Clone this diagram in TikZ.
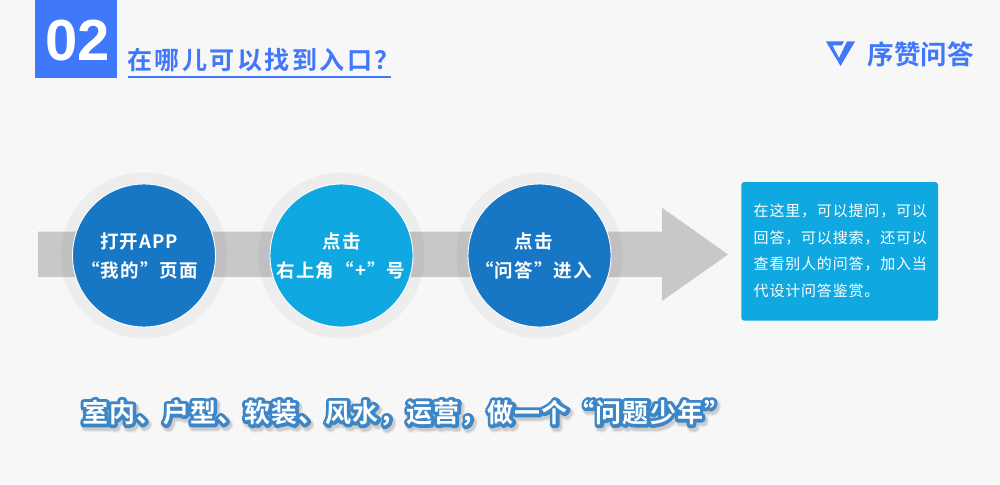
\documentclass[tikz,border=0pt]{standalone}
\usepackage{fontspec}
\setmainfont{Liberation Sans}
\newfontfamily\cjkbold{Noto Sans CJK SC Bold}
\newfontfamily\cjktitle[LetterSpace=10]{Noto Sans CJK SC Bold}
\newfontfamily\cjkstep[LetterSpace=6]{Noto Sans CJK SC Bold}
\newfontfamily\cjkbox[LetterSpace=5.5]{Noto Sans CJK SC}
\newfontfamily\cjkslogan[LetterSpace=4]{Noto Sans CJK SC Bold}
\definecolor{pagebg}{HTML}{F7F7F7}
\definecolor{brand}{HTML}{3F78FA}
\definecolor{band}{HTML}{C8C8C8}
\definecolor{deepblue}{HTML}{1877C5}
\definecolor{skyblue}{HTML}{0FA8E0}
% one stroked copy of a text: x shift, y shift, width in bp, rgb stroke colour, text
\newcommand{\strokelayer}[5]{\rlap{\kern#1pt\raisebox{#2pt}{\special{pdf:code q 1 Tr 1 j 1 J #3 w #4 RG}#5\special{pdf:code Q}}}}
\newcommand{\slogantext}{室内、户型、软装、风水，运营，做一个“问题少年”}
\tikzset{
  stephalo/.style={circle,fill=black,fill opacity=.04,minimum size=166pt,inner sep=0pt},
  stepdisc/.style={circle,draw=white,line width=.9pt,minimum size=143pt,inner sep=0pt},
  steplabel/.style={anchor=base,inner sep=0pt,text=white,font=\cjkstep\fontsize{18.5}{18.5}\selectfont},
  slogan/.style={anchor=base west,inner sep=0pt,font=\cjkslogan\fontsize{26}{26}\selectfont},
}
\begin{document}
\begin{tikzpicture}[x=1pt,y=-1pt]
\useasboundingbox (0,0) rectangle (1000,484);
\fill[pagebg] (0,0) rectangle (1000,484);

% header block and title
\node[fill=brand,minimum width=82pt,minimum height=78pt,inner sep=0pt,anchor=north west] (badge) at (35,0) {};
\node[text=white,inner sep=0pt,anchor=base,font=\bfseries\fontsize{58}{58}\selectfont] (badgenum) at (78,60.5) {02};
\node[text=brand,inner sep=0pt,anchor=base west,font=\cjktitle\fontsize{25}{25}\selectfont] (title) at (127,69.5) {在哪儿可以找到入口？};
\fill[brand] (128,76) rectangle (391,78);

% logo mark and wordmark
\fill[brand] (826,41.5) -- (844,41.5) -- (841.5,45.5) -- (832.5,45.5) -- (839,58) -- (847,41.5) -- (855,41.5) -- (840.5,66) -- cycle;
\node[text=brand,inner sep=0pt,anchor=base west,font=\cjkbold\fontsize{26.5}{26.5}\selectfont] (brandname) at (867.5,65) {序赞问答};

% process arrow
\fill[band] (38,231.7) -- (662,231.7) -- (662,207.7) -- (728,254.5) -- (662,301) -- (662,277) -- (38,277) -- cycle;

% steps
\node[stephalo] (haloa) at (144,255.5) {};
\node[stephalo] (halob) at (341.5,255.5) {};
\node[stephalo] (haloc) at (539.5,255.5) {};
\node[stepdisc,fill=deepblue] (stepa) at (144,255.5) {};
\node[stepdisc,fill=skyblue] (stepb) at (341.5,255.5) {};
\node[stepdisc,fill=deepblue] (stepc) at (539.5,255.5) {};
\node[steplabel] (stepaone) at (139,248) {打开APP};
\node[steplabel] (stepatwo) at (139.5,277) {“我的”页面};
\node[steplabel] (stepbone) at (341.5,248) {点击};
\node[steplabel] (stepbtwo) at (341,277) {右上角“+”号};
\node[steplabel] (stepcone) at (534,248) {点击};
\node[steplabel] (stepctwo) at (533.5,277) {“问答”进入};

% note box
\fill[skyblue] (741.3,182) [rounded corners=3pt] rectangle (938,320.7);
\node[text=white,inner sep=0pt,anchor=north west,align=left,font=\cjkbox\fontsize{15}{26.5}\selectfont] (note) at (753.5,204) {在这里，可以提问，可以\\回答，可以搜索，还可以\\查看别人的问答，加入当\\代设计问答鉴赏。};

% slogan: soft shadow, blue outline, white face
\node[slogan] (slogan) at (82,422.5) {%
  \strokelayer{2}{-3}{10}{.925 .925 .925}{\slogantext}%
  \strokelayer{2}{-3}{8}{.87 .87 .87}{\slogantext}%
  \strokelayer{2}{-3}{6.5}{.8 .8 .8}{\slogantext}%
  \strokelayer{0}{0}{6.5}{.235 .525 .78}{\slogantext}%
  \textcolor{white}{\slogantext}};
\end{tikzpicture}
\end{document}
